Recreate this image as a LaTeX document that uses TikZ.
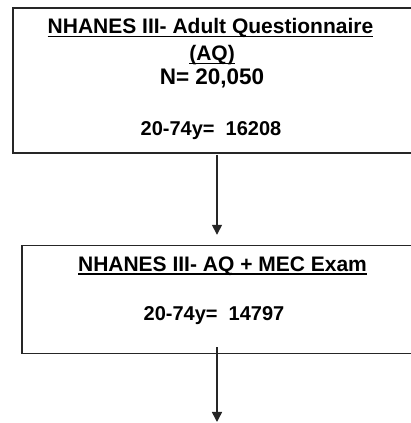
\documentclass[tikz,border=0pt]{standalone}
\usepackage{fontspec}
\setmainfont{Liberation Sans}
\usetikzlibrary{arrows.meta,positioning}
\newcommand{\ultitle}[1]{\setbox0\hbox{#1}\rlap{\rule[-3.5pt]{\wd0}{1.6pt}}\box0}

\begin{document}
\begin{tikzpicture}[
    x=1pt, y=1pt,
    box/.style={draw=black!85, line width=1.6pt, fill=white, inner sep=0pt},
    title/.style={font=\bfseries\fontsize{21}{25}\selectfont, anchor=base, inner sep=0pt},
    count/.style={font=\bfseries\fontsize{20}{24}\selectfont, anchor=base, inner sep=0pt},
    total/.style={font=\bfseries\fontsize{22.5}{27}\selectfont, anchor=base, inner sep=0pt},
    line/.style={-{Triangle[length=10pt,width=10pt]}, line width=1.5pt, black!85}
  ]
    \useasboundingbox (0,0) rectangle (411,423);

    \node[box, minimum width=417pt, minimum height=145pt] (aq) at (221.5,342.5) {};
    \node[box, minimum width=408pt, minimum height=108pt, below=91pt of aq, xshift=4.5pt] (mec) {};

    \node[title] (aqtitle) at (210.5,389) {\ultitle{NHANES III- Adult Questionnaire}};
    \node[title] (aqabbr) at (212,362) {\ultitle{(AQ)}};
    \node[total] (aqn) at (212,338) {N= 20,050};
    \node[count] (aqage) at (211,287) {20-74y= \ 16208};
    \node[title] (mectitle) at (222.5,151.5) {\ultitle{NHANES III- AQ + MEC Exam}};
    \node[count] (mecage) at (214,102) {20-74y= \ 14797};

    \coordinate (spine) at (217,0);
    \coordinate (next) at (217,1);
    \draw[line, shorten <=1pt, shorten >=10pt] (aq.south -| spine) -- (mec.north -| spine);
    \draw[line, shorten <=-7pt] (mec.south -| spine) -- (next);
  \end{tikzpicture}
\end{document}
